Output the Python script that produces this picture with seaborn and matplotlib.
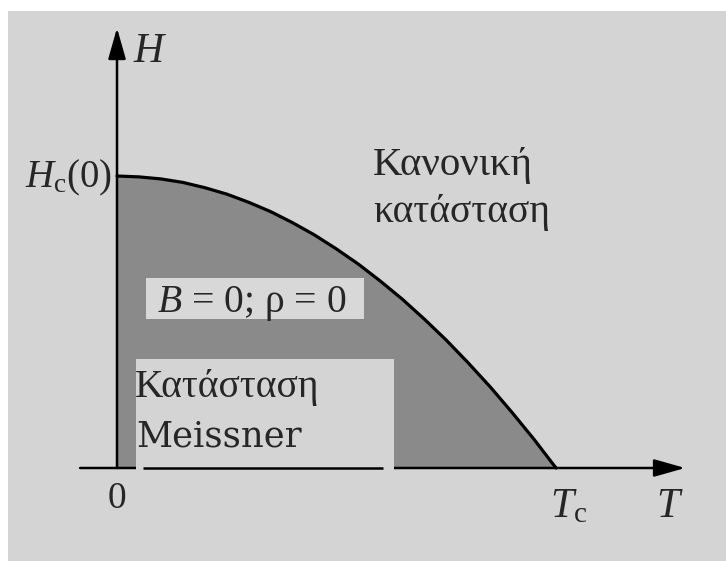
import matplotlib
matplotlib.use("Agg")
import matplotlib.pyplot as plt
from matplotlib.patches import Rectangle, ArrowStyle
import seaborn as sns
import pandas as pd

# Critical-field curve H_c(T), in units of T_c and H_c(0)
temperature = [0.00, 0.05, 0.10, 0.15, 0.20, 0.25, 0.30, 0.35, 0.40, 0.45, 0.50,
               0.55, 0.60, 0.65, 0.70, 0.75, 0.80, 0.85, 0.90, 0.95, 1.00]
critical_field = [1.00, 0.997, 0.99, 0.978, 0.96, 0.938, 0.91, 0.878, 0.84, 0.798, 0.75,
                  0.698, 0.64, 0.578, 0.51, 0.438, 0.36, 0.278, 0.19, 0.098, 0.00]

axis_labels = {"x": "$T$", "y": "$H$"}
tick_labels = {"origin": "0", "tc": r"$T_{\mathrm{c}}$", "hc": r"$H_{\mathrm{c}}(0)$"}
region_labels = {
    "normal": ["Κανονική", "κατάσταση"],
    "meissner": ["Κατάσταση", "Meissner"],
    "condition": "$B$ = 0; ρ = 0",
}

sns.set_theme(style="white")
plt.rcParams["font.family"] = ["Liberation Serif", "DejaVu Serif"]
plt.rcParams["mathtext.fontset"] = "custom"
plt.rcParams["mathtext.rm"] = "Liberation Serif"
plt.rcParams["mathtext.it"] = "Liberation Serif:italic"

BG = "#d4d4d4"
FILL = "#8a8a8a"
WIDE = ["DejaVu Serif"]

fig = plt.figure(figsize=(7.26, 5.61), dpi=100, facecolor="white")
ax = fig.add_axes([8 / 726, 0, 718 / 726, 550 / 561])
ax.set_facecolor(BG)
for s in ax.spines.values():
    s.set_visible(False)
ax.set_xticks([])
ax.set_yticks([])
ax.set_xlim(-0.2483, 1.3872)
ax.set_ylim(-0.3185, 1.5651)

df = pd.DataFrame({"T": temperature, "H": critical_field})

# superconducting region under the curve
ax.fill_between(df["T"], 0, df["H"], color=FILL, lw=0, zorder=1)
sns.lineplot(data=df, x="T", y="H", color="black", lw=2.3, sort=False,
             ax=ax, zorder=3)
ax.set_xlabel("")
ax.set_ylabel("")

# coordinate axes with arrow heads
head = ArrowStyle("-|>", head_length=0.95, head_width=0.27)
ax.annotate("", xy=(1.294, 0), xytext=(-0.084, 0),
            arrowprops=dict(arrowstyle=head, mutation_scale=20, lw=1.8,
                            color="black", shrinkA=0, shrinkB=0), zorder=4)
ax.annotate("", xy=(0, 1.507), xytext=(0, 0),
            arrowprops=dict(arrowstyle=head, mutation_scale=20, lw=1.8,
                            color="black", shrinkA=0, shrinkB=0), zorder=4)

# label boxes
ax.add_patch(Rectangle((0.0433, -0.014), 0.5877, 0.387, facecolor=BG,
                       edgecolor="none", zorder=5))
ax.plot([0.0592, 0.606], [0, 0], color="black", lw=1.8, zorder=6,
        solid_capstyle="butt")
ax.add_patch(Rectangle((0.066, 0.510), 0.4966, 0.141, facecolor="#d8d8d8",
                       edgecolor="none", zorder=5))

fs = 27
ax.text(0.3075, 0.534, region_labels["condition"], fontsize=28.5,
        ha="center", va="baseline", zorder=7)
ax.text(0.041, 0.243, region_labels["meissner"][0], fontsize=28.5,
        ha="left", va="baseline", zorder=7)
ax.text(0.044, 0.0753, region_labels["meissner"][1], fontsize=25.5,
        family=WIDE, ha="left", va="baseline", zorder=7)
ax.text(0.583, 1.003, region_labels["normal"][0], fontsize=29.5,
        ha="left", va="baseline", zorder=7)
ax.text(0.583, 0.842, region_labels["normal"][1], fontsize=28.5,
        ha="left", va="baseline", zorder=7)

ax.text(-0.0114, 0.962, tick_labels["hc"], fontsize=fs + 1,
        ha="right", va="baseline", zorder=7)
ax.text(0.0, -0.137, tick_labels["origin"], fontsize=fs,
        ha="center", va="baseline", zorder=7)
ax.text(0.986, -0.168, tick_labels["tc"], fontsize=fs + 3,
        ha="left", va="baseline", zorder=7)
ax.text(1.26, -0.168, axis_labels["x"], fontsize=fs + 3,
        ha="center", va="baseline", zorder=7)
ax.text(0.036, 1.390, axis_labels["y"], fontsize=fs + 3,
        ha="left", va="baseline", zorder=7)

fig.savefig("out.png", dpi=100, facecolor="white")
